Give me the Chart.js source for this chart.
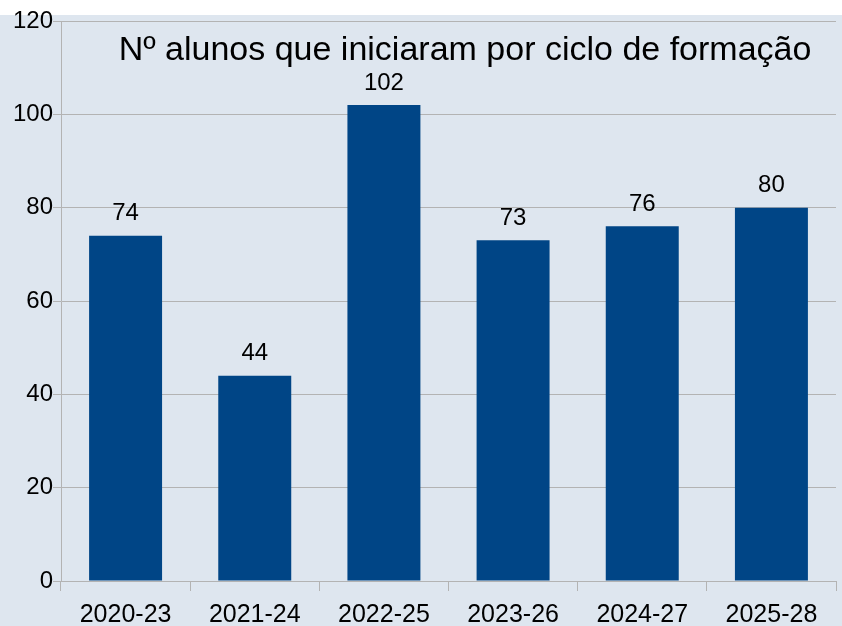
<!DOCTYPE html>
<html>
<head>
<meta charset="utf-8">
<script src="https://cdn.jsdelivr.net/npm/chart.js@4"></script>
<style>
  html, body { margin: 0; padding: 0; background: #ffffff; }
  #wrap { position: absolute; left: 0; top: 0; width: 842px; height: 626px; }
</style>
</head>
<body>
<div id="wrap"><canvas id="chart" width="842" height="626"></canvas></div>
<script>
const categories = ["2020-23", "2021-24", "2022-25", "2023-26", "2024-27", "2025-28"];
const alunos = [74, 44, 102, 73, 76, 80];
const titleText = "Nº alunos que iniciaram por ciclo de formação";

const FONT = "'Liberation Sans', Arial, sans-serif";

// background: white strip at the top, then light blue-grey
const background = {
  id: "background",
  beforeDraw(chart) {
    const ctx = chart.ctx;
    ctx.save();
    ctx.fillStyle = "#ffffff";
    ctx.fillRect(0, 0, chart.width, chart.height);
    ctx.fillStyle = "#dee6ef";
    ctx.fillRect(0, 15, chart.width, chart.height - 15);
    ctx.restore();
  }
};

// title drawn inside the plot area
const innerTitle = {
  id: "innerTitle",
  afterDatasetsDraw(chart) {
    const ctx = chart.ctx;
    ctx.save();
    ctx.font = "34px " + FONT;
    ctx.fillStyle = "#000000";
    ctx.textAlign = "center";
    ctx.textBaseline = "middle";
    ctx.fillText(titleText, 465, 51);
    ctx.restore();
  }
};

// value labels above each bar
const valueLabels = {
  id: "valueLabels",
  afterDatasetsDraw(chart) {
    const ctx = chart.ctx;
    const meta = chart.getDatasetMeta(0);
    ctx.save();
    ctx.font = "24px " + FONT;
    ctx.fillStyle = "#000000";
    ctx.textAlign = "center";
    ctx.textBaseline = "middle";
    meta.data.forEach((bar, i) => {
      ctx.fillText(String(alunos[i]), bar.x, bar.y - 22);
    });
    ctx.restore();
  }
};

new Chart(document.getElementById("chart"), {
  type: "bar",
  data: {
    labels: categories,
    datasets: [{
      data: alunos,
      backgroundColor: "#004586",
      borderWidth: 0,
      barPercentage: 0.565,
      categoryPercentage: 1
    }]
  },
  options: {
    responsive: false,
    animation: false,
    layout: { padding: { top: 21, right: 6, left: 0, bottom: 0 } },
    plugins: {
      legend: { display: false },
      tooltip: { enabled: false },
      title: { display: false }
    },
    scales: {
      x: {
        offset: true,
        grid: {
          offset: true,
          drawOnChartArea: false,
          drawTicks: true,
          tickLength: 10,
          color: "#b3b3b3"
        },
        border: { display: true, color: "#b3b3b3" },
        ticks: {
          color: "#000000",
          font: { family: FONT, size: 25 },
          padding: 9,
          maxRotation: 0
        },
        afterFit(scale) { scale.height = 45; }
      },
      y: {
        min: 0,
        max: 120,
        grid: {
          color: "#b3b3b3",
          drawTicks: true,
          tickLength: 8
        },
        border: { display: true, color: "#b3b3b3" },
        ticks: {
          stepSize: 20,
          color: "#000000",
          font: { family: FONT, size: 24 },
          padding: 0
        },
        afterFit(scale) { scale.width = 61; }
      }
    }
  },
  plugins: [background, innerTitle, valueLabels]
});
</script>
</body>
</html>
